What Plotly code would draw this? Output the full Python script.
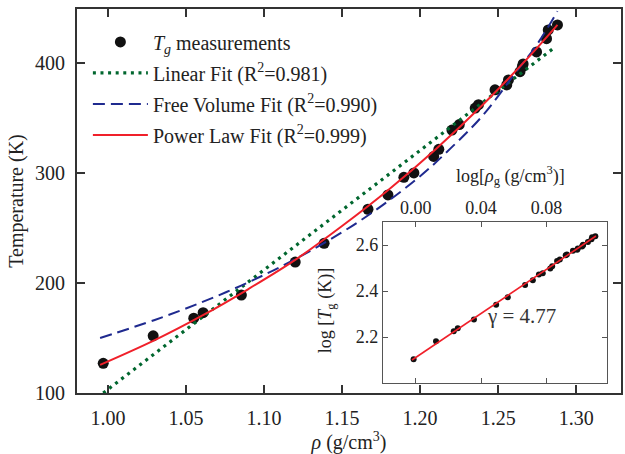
import numpy as np
import plotly.graph_objects as go

# ---- data ----
rho = [0.997, 1.029, 1.055, 1.061, 1.0855, 1.120, 1.1385, 1.1666, 1.1794, 1.1896,
       1.196, 1.2087, 1.212, 1.2204, 1.2251, 1.2353, 1.2374, 1.248, 1.2555, 1.2566,
       1.264, 1.2655, 1.266, 1.2746, 1.281, 1.2821, 1.288]
Tg = [127, 152, 168, 173, 189, 219, 236, 267, 280, 296,
      300, 315, 321.5, 339, 344, 359, 362, 375.5, 380, 384.5,
      392, 396.6, 399, 410, 422, 430, 434.5]

lin_rho = [0.997, 1.285]
lin_T = [100, 412.8]

fv_rho = [0.995, 1.03, 1.06, 1.085, 1.11, 1.14, 1.17, 1.20, 1.22, 1.24, 1.26, 1.275, 1.288]
fv_T = [150, 166.4, 182.4, 197.4, 214.3, 237.5, 264.7, 297, 323, 352, 389, 417, 447]

pl_rho = [0.995, 1.03, 1.06, 1.09, 1.12, 1.15, 1.18, 1.21, 1.24, 1.27, 1.288]
pl_T = [125.5, 148, 170, 194.5, 221, 251.8, 285, 321.6, 361.8, 405.9, 434.5]

inset_fit_x = [-0.0023, 0.1103]
inset_fit_y = [2.100, 2.639]

x_ticks = [1.00, 1.05, 1.10, 1.15, 1.20, 1.25, 1.30]
y_ticks = [100, 200, 300, 400]
ix_ticks = [0.00, 0.04, 0.08]
iy_ticks = [2.2, 2.4, 2.6]

log_rho = np.log10(rho)
log_T = np.log10(Tg)

SERIF = "Liberation Serif"
GREEN = "#00662e"
BLUE = "#1f2a8f"
RED = "#f0202a"

fig = go.Figure()

fig.add_trace(go.Scatter(x=rho, y=Tg, mode="markers", name="<i>T<sub>g</sub></i> measurements",
                         marker=dict(size=11, color="#111111"), legendgroup="a"))
fig.add_trace(go.Scatter(x=lin_rho, y=lin_T, mode="lines", name="Linear Fit (R<sup>2</sup>=0.981)",
                         line=dict(color=GREEN, width=3.2, dash="3px,4.6px"), legendgroup="b"))
fig.add_trace(go.Scatter(x=fv_rho, y=fv_T, mode="lines", line_shape="spline",
                         name="Free Volume Fit (R<sup>2</sup>=0.990)",
                         line=dict(color=BLUE, width=2, dash="12px,6px"), legendgroup="c"))
fig.add_trace(go.Scatter(x=pl_rho, y=pl_T, mode="lines", line_shape="spline",
                         name="Power Law Fit (R<sup>2</sup>=0.999)",
                         line=dict(color=RED, width=2), legendgroup="d"))

# inset
fig.add_trace(go.Scatter(x=log_rho, y=log_T, mode="markers", xaxis="x2", yaxis="y2",
                         marker=dict(size=6, color="#111111"), showlegend=False))
fig.add_trace(go.Scatter(x=inset_fit_x, y=inset_fit_y, mode="lines", xaxis="x2", yaxis="y2",
                         line=dict(color=RED, width=1.6), showlegend=False))

axis_common = dict(showline=True, linecolor="#333333", linewidth=2, ticks="inside",
                   ticklen=8, tickwidth=1.5, tickcolor="#333333", mirror="ticks",
                   showgrid=False, zeroline=False,
                   tickfont=dict(family=SERIF, size=20, color="#222222"))
inset_common = dict(showline=True, linecolor="#555555", linewidth=1, ticks="inside",
                    ticklen=5, tickwidth=1, tickcolor="#555555", mirror="ticks",
                    showgrid=False, zeroline=False,
                    tickfont=dict(family=SERIF, size=18, color="#222222"))

fig.update_layout(
    width=625, height=454,
    margin=dict(l=77, r=2, t=9, b=61),
    plot_bgcolor="white", paper_bgcolor="white",
    font=dict(family=SERIF, size=20, color="#222222"),
    xaxis=dict(range=[0.9802, 1.3287], tickvals=x_ticks,
               ticktext=[f"{v:.2f}" for v in x_ticks], ticklabelstandoff=6,
               title=dict(text="<i>ρ</i> (g/cm<sup>3</sup>)", font=dict(size=20), standoff=6),
               **axis_common),
    yaxis=dict(range=[100, 449], tickvals=y_ticks, ticktext=[str(v) for v in y_ticks],
               ticklabelstandoff=6,
               title=dict(text="Temperature (K)", font=dict(size=20), standoff=6),
               **axis_common),
    xaxis2=dict(domain=[0.5623, 0.9744], anchor="y2", range=[-0.0201, 0.1171], side="top",
                tickvals=ix_ticks, ticktext=[f"{v:.2f}" for v in ix_ticks],
                **inset_common),
    yaxis2=dict(domain=[0.026, 0.4453], anchor="x2", range=[2.0, 2.7],
                tickvals=iy_ticks, ticktext=[f"{v:.1f}" for v in iy_ticks],
                **inset_common),
    legend=dict(x=0.02, y=0.965, xanchor="left", yanchor="top", bgcolor="rgba(0,0,0,0)",
                font=dict(family=SERIF, size=20, color="#222222"),
                traceorder="grouped", tracegroupgap=2, itemwidth=55),
    showlegend=True,
    annotations=[
        dict(text="γ = 4.77", x=0.0646, y=2.29, xref="x2", yref="y2",
             showarrow=False, font=dict(family=SERIF, size=21, color="#333333")),
        dict(text="log[<i>ρ</i><sub>g</sub> (g/cm<sup>3</sup>)]", x=0.0579, y=0.567,
             xref="x2", yref="paper", showarrow=False,
             font=dict(family=SERIF, size=18, color="#222222")),
        dict(text="log [<i>T</i><sub>g</sub> (K)]", x=0.458, y=0.2135, textangle=-90,
             xref="paper", yref="paper", xanchor="center", yanchor="middle", showarrow=False,
             font=dict(family=SERIF, size=18, color="#222222")),
    ],
)

fig.write_html("out.html")
